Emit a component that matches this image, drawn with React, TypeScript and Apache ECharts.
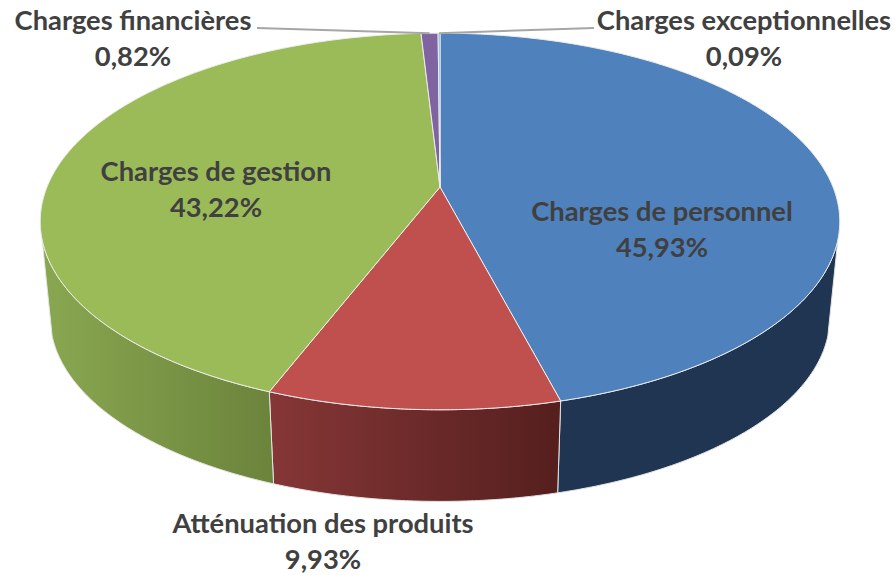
import React, { useEffect, useRef } from "react";
import * as echarts from "echarts";

const categories = [
  "Charges de personnel",
  "Atténuation des produits",
  "Charges de gestion",
  "Charges financières",
  "Charges exceptionnelles",
];
const shares = [45.93, 9.93, 43.22, 0.82, 0.09];

const topColors = ["#4F81BD", "#C0504D", "#9BBB59", "#8064A2", "#4BACC6"];
const sideColors = [
  ["#1F3551", "#1F3551"],
  ["#853636", "#551F1E"],
  ["#88A650", "#6B833B"],
  ["#604A7B", "#604A7B"],
  ["#31859B", "#31859B"],
];
const labelCenters = [
  [662, 228],
  [323, 540],
  [216, 188],
  [133, 37.5],
  [744, 37.5],
];
const leaderStarts = [null, null, null, [257, 28], [594, 28]];

const W = 895;
const H = 575;
// Projection of a tilted disc: the centre of the disc is off the centre of its outline.
const CX = 440;
const TOP_Y = 187;
const BASE_Y = 284.2;
const RX = 393;
const RY = 182;
const PERSP = 0.183;
const BASE_SCALE = 0.975;
const FRONT_V = 0.276; // rim is visible for disc depth above this
const FONT = '700 27.3px Lato, "Noto Sans", sans-serif';

const total = shares.reduce((a, b) => a + b, 0);
const cumulative = shares.reduce<number[]>((acc, v) => {
  acc.push((acc.length ? acc[acc.length - 1] : 0) + v);
  return acc;
}, []);
const startAngle = (i: number) => ((i === 0 ? 0 : cumulative[i - 1]) / total) * 2 * Math.PI;
const endAngle = (i: number) => (cumulative[i] / total) * 2 * Math.PI;

function project(theta: number, base: boolean): number[] {
  const u = Math.sin(theta);
  const v = -Math.cos(theta);
  const w = 1 - PERSP * v;
  const s = base ? BASE_SCALE : 1;
  return [CX + (s * RX * u) / w, (base ? BASE_Y : TOP_Y) + (s * RY * v) / w];
}

function arc(a: number, b: number, base: boolean): number[][] {
  const n = Math.max(2, Math.ceil(((b - a) * 180) / Math.PI / 0.5));
  const pts: number[][] = [];
  for (let i = 0; i <= n; i++) pts.push(project(a + ((b - a) * i) / n, base));
  return pts;
}

const frontStart = Math.acos(-FRONT_V);
const frontEnd = 2 * Math.PI - frontStart;

const renderSide = (params: any) => {
  const i = params.dataIndex;
  const a = Math.max(startAngle(i), frontStart);
  const b = Math.min(endAngle(i), frontEnd);
  if (b <= a) return { type: "group", children: [] };
  const top = arc(a, b, false);
  const bottom = arc(a, b, true).reverse();
  const xs = bottom.map((p) => p[0]);
  return {
    type: "polygon",
    shape: { points: top.concat(bottom) },
    style: {
      fill: {
        type: "linear",
        global: true,
        x: Math.min(...xs),
        y: 0,
        x2: Math.max(...xs),
        y2: 0,
        colorStops: [
          { offset: 0, color: sideColors[i][0] },
          { offset: 1, color: sideColors[i][1] },
        ],
      },
      stroke: "#E4E4E4",
      lineWidth: 1,
    },
  };
};

const renderTop = (params: any) => {
  const i = params.dataIndex;
  const rim = arc(startAngle(i), endAngle(i), false);
  return {
    type: "polygon",
    shape: { points: [[CX, TOP_Y], ...rim] },
    style: { fill: topColors[i], stroke: "#EDEDED", lineWidth: 1 },
  };
};

const renderLabel = (params: any, api: any) => {
  const i = params.dataIndex;
  const pct = Number(api.value(0)).toFixed(2).replace(".", ",");
  const children: any[] = [];
  const from = leaderStarts[i];
  if (from) {
    const end = project((startAngle(i) + endAngle(i)) / 2, false);
    children.push({
      type: "polyline",
      shape: { points: [from, end] },
      style: { fill: "none", stroke: "#A6A6A6", lineWidth: 2 },
    });
  }
  children.push({
    type: "text",
    style: {
      text: `${categories[i]}\n${pct}%`,
      x: labelCenters[i][0],
      y: labelCenters[i][1],
      align: "center",
      verticalAlign: "middle",
      font: FONT,
      lineHeight: 36,
      fill: "#404040",
    },
  });
  return { type: "group", children };
};

export default function App() {
  const ref = useRef<HTMLDivElement>(null);
  useEffect(() => {
    const chart = echarts.init(ref.current!, undefined, { renderer: "svg" });
    const data = shares.map((v, i) => ({ name: categories[i], value: [v] }));
    const base = { type: "custom", coordinateSystem: "none", silent: true, data };
    chart.setOption({
      animation: false,
      backgroundColor: "#fff",
      series: [
        { ...base, z: 1, renderItem: renderSide },
        { ...base, z: 2, renderItem: renderTop },
        { ...base, z: 3, renderItem: renderLabel },
      ],
    });
    return () => chart.dispose();
  }, []);
  return (
    <div
      ref={ref}
      style={{ position: "fixed", left: 0, top: 0, width: W, height: H, fontVariantLigatures: "none" }}
    />
  );
}
